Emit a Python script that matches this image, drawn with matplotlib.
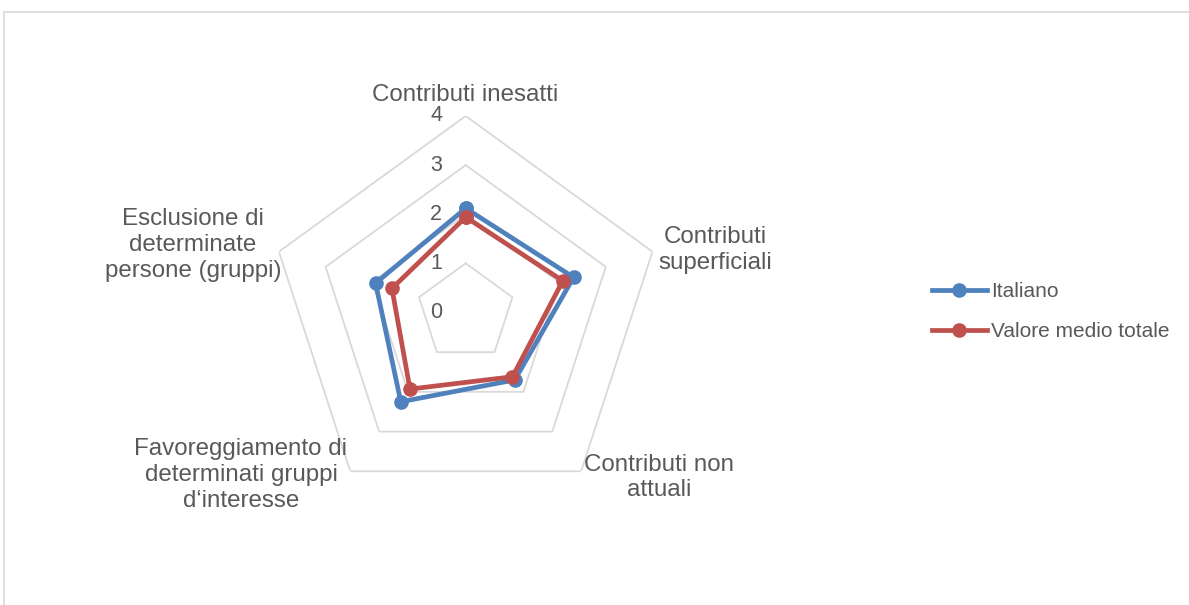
import numpy as np
import matplotlib
matplotlib.use('Agg')
import matplotlib.pyplot as plt
from matplotlib.lines import Line2D

# Categories and values
categories = ['Contributi inesatti', 'Contributi\nsuperficiali',
              'Contributi non\nattuali',
              'Favoreggiamento di\ndeterminati gruppi\nd\u2018interesse',
              'Esclusione di\ndeterminate\npersone (gruppi)']
italiano = [2.12, 2.31, 1.70, 2.25, 1.93]
valore_medio = [1.94, 2.08, 1.62, 1.93, 1.58]
r_ticks = [0, 1, 2, 3, 4]

blue = '#4F81BD'
red = '#C0504D'
grid_col = '#D9D9D9'
text_col = '#595959'

plt.rcParams['font.family'] = ['Liberation Sans', 'DejaVu Sans']

W, H = 1189, 605
fig = plt.figure(figsize=(W / 100, H / 100), dpi=100)

# outer chart border (cut off on right and bottom)
fig.add_artist(plt.Rectangle((4 / W, -0.05), 1.1, 1 - 12 / H + 0.05,
                             transform=fig.transFigure, fill=False,
                             edgecolor=grid_col, lw=1.2))

# polar axes: center at (465.7, 312.4) px, radius for 4 = 196.4 px
cx, cy, rad = 465.7, 312.4, 196.4
ax = fig.add_axes([(cx - rad) / W, 1 - (cy + rad) / H, 2 * rad / W, 2 * rad / H],
                  projection='polar')
ax.set_theta_zero_location('N')
ax.set_theta_direction(-1)
ax.set_ylim(0, 4)
ax.grid(False)
ax.spines['polar'].set_visible(False)
ax.set_xticks([])
ax.set_yticks([])
ax.patch.set_alpha(0)

n = len(categories)
angles = np.linspace(0, 2 * np.pi, n, endpoint=False)
closed = np.append(angles, angles[0])

# pentagon gridlines
for r in r_ticks[1:]:
    ax.plot(closed, [r] * (n + 1), color=grid_col, lw=1.3, zorder=1)

for r in r_ticks:
    ax.annotate(str(r), xy=(0, r), xytext=(-17, 0), textcoords='offset points',
                ha='right', va='center', fontsize=15.5, color=text_col)

# data series
for vals, col, lab in [(italiano, blue, 'Italiano'),
                       (valore_medio, red, 'Valore medio totale')]:
    v = vals + vals[:1]
    ax.plot(closed, v, color=col, lw=3.4, marker='o', markersize=9.5,
            label=lab, zorder=3, clip_on=False)

# category labels (pixel centers)
label_pos = [(465, 95), (715, 250), (659, 477.5), (241, 475), (193, 245)]
for lab, (px, py) in zip(categories, label_pos):
    fig.text(px / W, 1 - py / H, lab, ha='center', va='center',
             fontsize=17.4, color=text_col, linespacing=1.22)

handles = [Line2D([], [], color=blue, lw=3.4, marker='o', markersize=9.5),
           Line2D([], [], color=red, lw=3.4, marker='o', markersize=9.5)]
fig.legend(handles, ['Italiano', 'Valore medio totale'], loc='center left',
           bbox_to_anchor=(931.7 / W, 1 - 311.4 / H), frameon=False,
           fontsize=15, labelcolor=text_col, handlelength=2.64,
           handletextpad=0.2, labelspacing=1.0, borderpad=0,
           borderaxespad=0, numpoints=1)

fig.savefig('out.png', dpi=100)
